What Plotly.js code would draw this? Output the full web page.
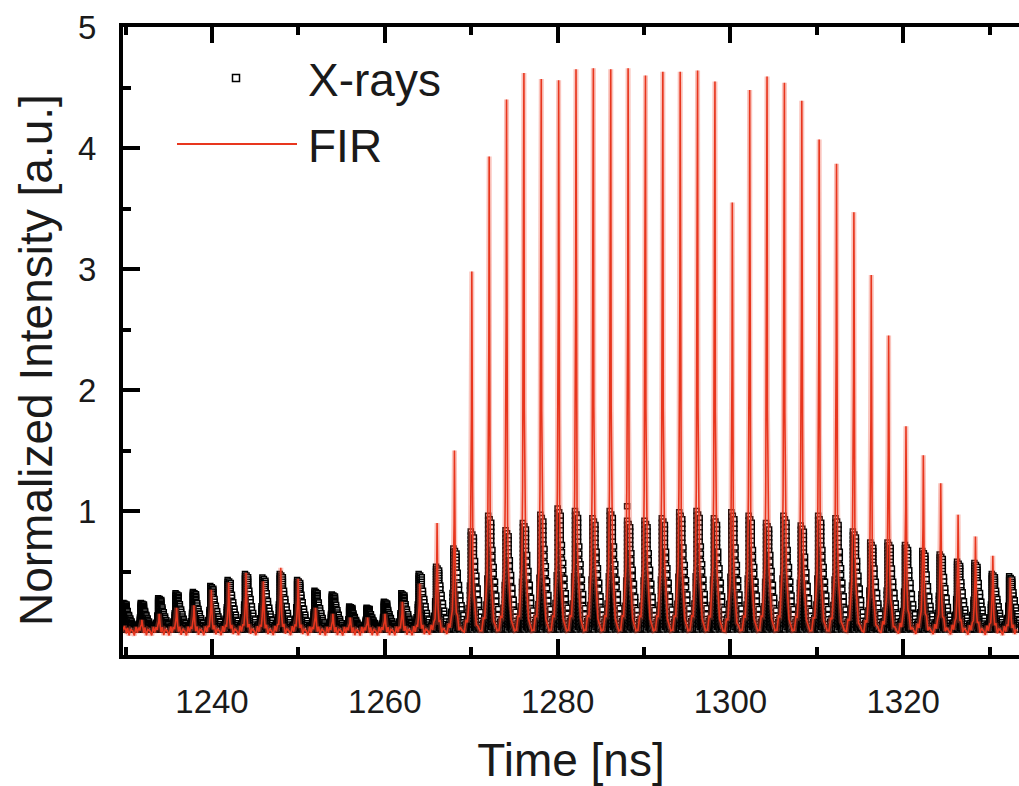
<!DOCTYPE html>
<html>
<head>
<meta charset="utf-8">
<script src="https://cdn.plot.ly/plotly-3.0.1.min.js"></script>
<style>html,body{margin:0;padding:0;background:#fff;}#chart{width:1019px;height:786px;}</style>
</head>
<body>
<div id="chart"></div>
<script>
// ---- data ----
// centre time of each pulse (ns)
const pulseTime = [1229.75, 1231.76, 1233.77, 1235.78, 1237.79, 1239.80, 1241.81, 1243.82, 1245.83, 1247.84,
  1249.85, 1251.86, 1253.87, 1255.88, 1257.89, 1259.90, 1261.91, 1263.92, 1265.93, 1267.94,
  1269.95, 1271.96, 1273.97, 1275.98, 1277.99, 1280.00, 1282.01, 1284.02, 1286.03, 1288.04,
  1290.05, 1292.06, 1294.07, 1296.08, 1298.09, 1300.10, 1302.11, 1304.12, 1306.13, 1308.14,
  1310.15, 1312.16, 1314.17, 1316.18, 1318.19, 1320.20, 1322.21, 1324.22, 1326.23, 1328.24,
  1330.25, 1332.26];
// peak of the X-ray column of each pulse
const xrayPeak = [0.22, 0.22, 0.26, 0.30, 0.31, 0.36, 0.41, 0.46, 0.43, 0.46,
  0.41, 0.32, 0.29, 0.19, 0.18, 0.23, 0.30, 0.46, 0.52, 0.67,
  0.81, 0.94, 0.82, 0.88, 0.95, 1.00, 0.98, 0.92, 0.98, 0.90,
  0.90, 0.92, 0.97, 0.98, 0.92, 0.97, 0.94, 0.88, 0.94, 0.86,
  0.94, 0.92, 0.81, 0.72, 0.72, 0.70, 0.65, 0.62, 0.56, 0.55,
  0.46, 0.44];
// peak of the FIR spike of each pulse
const firPeak = [0.05, 0.10, 0.15, 0.20, 0.22, 0.35, 0.41, 0.49, 0.42, 0.53,
  0.44, 0.20, 0.15, 0.12, 0.12, 0.15, 0.25, 0.40, 0.90, 1.50,
  2.98, 3.93, 4.40, 4.62, 4.57, 4.56, 4.65, 4.66, 4.65, 4.66,
  4.60, 4.63, 4.63, 4.64, 4.55, 3.55, 4.48, 4.59, 4.54, 4.39,
  4.07, 3.87, 3.47, 2.95, 2.45, 1.70, 1.46, 1.23, 0.97, 0.79,
  0.63, 0.45];
// single stray X-ray point above a column
const xrayExtraTime = [1288.04];
const xrayExtraValue = [1.04];

// X-ray pulse shape: vertical stacks of samples (offset from pulse time in ns, fractions of the peak)
const xrayStackDt = [-0.45, -0.25, -0.1, 0.0, 0.18, 0.36, 0.5, 0.65, 0.8, 0.95, 1.15, 1.4];
const xrayStackFrac = [
  [0.10, 0.06, 0.03, 0.0],
  [0.22, 0.18, 0.14, 0.11, 0.08, 0.05, 0.02, 0.0],
  [0.45, 0.40, 0.35, 0.30, 0.26, 0.22, 0.18, 0.14, 0.10, 0.07, 0.04, 0.01],
  [1.00, 0.96, 0.92, 0.88, 0.84, 0.80, 0.76, 0.72, 0.68, 0.64, 0.60, 0.56, 0.52, 0.48, 0.44, 0.40, 0.37, 0.34, 0.31, 0.28, 0.25, 0.22, 0.19, 0.16, 0.13, 0.10, 0.07, 0.04, 0.01],
  [0.97, 0.93, 0.89, 0.85, 0.81, 0.77, 0.73, 0.69, 0.65, 0.61, 0.57, 0.53, 0.49, 0.45, 0.42, 0.39, 0.36, 0.33, 0.30, 0.27, 0.24, 0.21, 0.18, 0.15, 0.12, 0.09, 0.06, 0.03, 0.0],
  [0.94, 0.90, 0.86, 0.82, 0.78, 0.74, 0.70, 0.66, 0.62, 0.58, 0.54, 0.50, 0.46, 0.42, 0.38, 0.35, 0.32, 0.29, 0.26, 0.23, 0.20, 0.17, 0.14, 0.11, 0.08, 0.05, 0.02],
  [0.70, 0.64, 0.58, 0.52, 0.46, 0.41, 0.36, 0.32, 0.28, 0.24, 0.20, 0.17, 0.14, 0.11, 0.08, 0.05, 0.02],
  [0.55, 0.49, 0.43, 0.37, 0.32, 0.27, 0.23, 0.19, 0.15, 0.12, 0.09, 0.06, 0.03, 0.0],
  [0.42, 0.36, 0.30, 0.25, 0.20, 0.16, 0.12, 0.09, 0.06, 0.03, 0.01],
  [0.30, 0.25, 0.20, 0.16, 0.12, 0.08, 0.05, 0.02],
  [0.18, 0.13, 0.09, 0.05, 0.02, 0.0],
  [0.07, 0.03, 0.0]
];
const xrayBaseline = 0.02;

// FIR pulse shape (offset in ns, fraction of the peak, baseline ripple)
const firShapeDt =   [-0.95, -0.75, -0.55, -0.40, -0.25, -0.12, -0.03, 0.08, 0.12, 0.17, 0.24, 0.34, 0.48, 0.65, 0.82];
const firShapeFrac = [0.00, 0.01, 0.02, 0.03, 0.06, 0.12, 0.25, 0.60, 1.00, 0.40, 0.20, 0.12, 0.07, 0.03, 0.01];
const firRipple =    [0.01, -0.03, 0.04, -0.01, 0.03, 0.00, 0.02, 0.00, 0.00, 0.00, 0.02, -0.02, 0.03, -0.03, 0.02];

// ---- build traces ----
const xrX = [], xrY = [];
pulseTime.forEach((t, i) => {
  xrayStackDt.forEach((d, s) => {
    xrayStackFrac[s].forEach(f => { xrX.push(t + d); xrY.push(xrayPeak[i] * f + xrayBaseline); });
  });
});
xrayExtraTime.forEach((t, i) => { xrX.push(t); xrY.push(xrayExtraValue[i]); });

const firX = [], firY = [];
pulseTime.forEach((t, i) => {
  firShapeDt.forEach((d, j) => { firX.push(t + d); firY.push(firPeak[i] * firShapeFrac[j] + firRipple[j]); });
});

const RED = '#e8361e';
const traces = [
  {type: 'scatter', mode: 'markers', name: 'X-rays', x: xrX, y: xrY,
   marker: {symbol: 'square', size: 5, color: '#ffffff', line: {color: '#000000', width: 1.5}},
   showlegend: false, cliponaxis: true},
  {type: 'scatter', mode: 'lines', name: 'FIR halo', x: firX, y: firY,
   line: {color: 'rgba(240,90,70,0.35)', width: 5}, showlegend: false, hoverinfo: 'skip'},
  {type: 'scatter', mode: 'lines', name: 'FIR', x: firX, y: firY,
   line: {color: RED, width: 1.6}, showlegend: false}
];

// layout helpers (pixel -> paper)
const L = 123, R = 1019, T = 27, B = 655;
const px = v => (v - L) / (R - L);
const py = v => (B - v) / (B - T);
const FONT = 'Liberation Sans, Arial, sans-serif';

const layout = {
  width: 1019, height: 786,
  margin: {l: L, r: 1019 - R, t: T, b: 786 - B, pad: 0},
  paper_bgcolor: '#ffffff', plot_bgcolor: '#ffffff',
  showlegend: false,
  font: {family: FONT, color: '#1a1a1a'},
  xaxis: {
    range: [1229.7, 1333.4], tickmode: 'linear', tick0: 1240, dtick: 20,
    ticks: 'inside', ticklen: 16, tickwidth: 4, tickcolor: '#000',
    showline: true, linewidth: 4, linecolor: '#000', mirror: 'ticks',
    showgrid: false, zeroline: false, layer: 'above traces',
    tickfont: {size: 33, family: FONT, color: '#1a1a1a'}, ticklabelstandoff: 14,
    minor: {dtick: 10, tick0: 1230, ticks: 'inside', ticklen: 8, tickwidth: 4, tickcolor: '#000', showgrid: false},
    title: {text: 'Time [ns]', font: {size: 46, family: FONT, color: '#1a1a1a'}, standoff: 30}
  },
  yaxis: {
    range: [-0.19, 5.0], tickmode: 'array', tickvals: [1, 2, 3, 4, 5],
    ticks: 'inside', ticklen: 17, tickwidth: 4, tickcolor: '#000',
    showline: true, linewidth: 4, linecolor: '#000', mirror: false,
    showgrid: false, zeroline: false, layer: 'above traces',
    tickfont: {size: 33, family: FONT, color: '#1a1a1a'}, ticklabelstandoff: 16,
    minor: {tickvals: [0.5, 1.5, 2.5, 3.5, 4.5], ticks: 'inside', ticklen: 8, tickwidth: 4, tickcolor: '#000', showgrid: false}
  },
  annotations: [
    {xref: 'paper', yref: 'paper', x: px(36), y: py(360), text: 'Normalized Intensity [a.u.]', textangle: -90,
     showarrow: false, xanchor: 'center', yanchor: 'middle', font: {size: 46, family: FONT, color: '#1a1a1a'}},
    {xref: 'paper', yref: 'paper', x: px(306), y: py(80), text: 'X-rays', showarrow: false,
     xanchor: 'left', yanchor: 'middle', font: {size: 46, family: FONT, color: '#1a1a1a'}},
    {xref: 'paper', yref: 'paper', x: px(306), y: py(146), text: 'FIR', showarrow: false,
     xanchor: 'left', yanchor: 'middle', font: {size: 46, family: FONT, color: '#1a1a1a'}}
  ],
  shapes: [
    {type: 'rect', xref: 'paper', yref: 'paper', x0: px(232.5), x1: px(239.5), y0: py(81.5), y1: py(74.5),
     line: {color: '#000', width: 1.5}, fillcolor: '#fff'},
    {type: 'line', xref: 'paper', yref: 'paper', x0: px(177), x1: px(297), y0: py(144), y1: py(144),
     line: {color: RED, width: 2}}
  ]
};

Plotly.newPlot('chart', traces, layout, {displayModeBar: false, staticPlot: true});
</script>
</body>
</html>
